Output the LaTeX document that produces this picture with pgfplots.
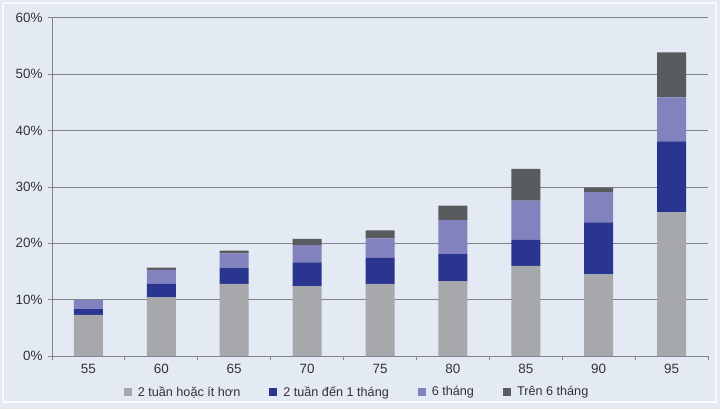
\documentclass[border=0pt]{standalone}
\usepackage{pgfplots}
\pgfplotsset{compat=1.18}
\usepackage{fontspec}
\setmainfont{Liberation Sans}
\definecolor{bg}{RGB}{228,234,244}
\definecolor{cgrey}{RGB}{166,168,171}
\definecolor{cblue}{RGB}{42,53,144}
\definecolor{cpurple}{RGB}{130,130,190}
\definecolor{cdark}{RGB}{89,92,94}
\definecolor{gridc}{RGB}{128,131,138}
\definecolor{txt}{RGB}{50,50,52}
\begin{document}
\begin{tikzpicture}[x=1bp,y=1bp]
\fill[bg] (0,0) rectangle (720,409);
\draw[white!70!bg, line width=1.5bp] (3,7) rectangle (716,406);
\begin{axis}[
  at={(52bp,53bp)}, anchor=south west,
  width=656bp, height=338bp, scale only axis,
  xmin=-0.5, xmax=8.5, ymin=0, ymax=60,
  axis lines=left,
  axis line style={-, color=gridc, line width=1bp},
  ybar stacked, bar width=29bp,
  xtick={-0.5,0.5,...,8.5},
  xticklabels={55,60,65,70,75,80,85,90,95},
  x tick label as interval,
  ytick={0,10,20,30,40,50,60},
  yticklabels={0\%,10\%,20\%,30\%,40\%,50\%,60\%},
  ymajorgrids,
  grid style={gridc, line width=1bp},
  tick style={gridc, line width=1bp},
  tick align=outside,
  major tick length=4bp,
  ticklabel style={font=\fontsize{13.5}{16}\selectfont, text=txt},
  yticklabel style={xshift=-2bp},
  xticklabel style={yshift=-1bp},
  legend style={at={(0.465,-36bp)}, anchor=center, draw=none, fill=none,
    legend columns=4, font=\fontsize{12.7}{15}\selectfont, text=txt,
    /tikz/every odd column/.append style={column sep=4bp},
    /tikz/every even column/.append style={column sep=27bp}},
  legend image code/.code={\fill[#1,draw=none] (0bp,-4bp) rectangle (8bp,4bp);},
]
\addplot[fill=cgrey, draw=none] coordinates {(0,7.3) (1,10.4) (2,12.8) (3,12.4) (4,12.8) (5,13.3) (6,16.0) (7,14.5) (8,25.5)};
\addplot[fill=cblue, draw=none] coordinates {(0,1.0) (1,2.4) (2,2.8) (3,4.2) (4,4.6) (5,4.8) (6,4.6) (7,9.2) (8,12.6)};
\addplot[fill=cpurple, draw=none] coordinates {(0,1.6) (1,2.5) (2,2.6) (3,3.1) (4,3.5) (5,6.0) (6,7.0) (7,5.4) (8,7.8)};
\addplot[fill=cdark, draw=none] coordinates {(0,0) (1,0.4) (2,0.5) (3,1.1) (4,1.4) (5,2.6) (6,5.6) (7,0.8) (8,8.0)};
\legend{2 tuần hoặc ít hơn, 2 tuần đến 1 tháng, 6 tháng, Trên 6 tháng}
\end{axis}
\end{tikzpicture}
\end{document}
